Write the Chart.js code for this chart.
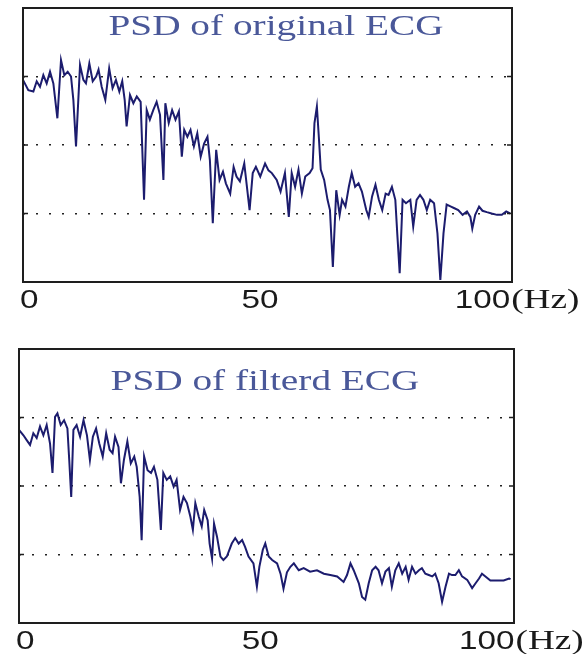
<!DOCTYPE html>
<html>
<head>
<meta charset="utf-8">
<title>PSD of ECG</title>
<script src="https://cdn.jsdelivr.net/npm/chart.js@4.4.0/dist/chart.umd.min.js"></script>
<style>
  body { margin: 0; background: #fff; }
  .panel { position: absolute; left: 0; width: 583px; }
</style>
</head>
<body>
<div class="panel" style="top:0;height:320px"><canvas id="origChart"></canvas></div>
<div class="panel" style="top:320px;height:334px"><canvas id="filtChart"></canvas></div>
<script>
// values (1 unit = one dotted grid step)
var origHz = [0, 1.1, 2.14, 2.83, 3.51, 4.2, 4.89, 5.58, 6.27, 7.1, 7.85, 8.54, 9.23, 9.92, 10.4, 10.95,
  11.78, 12.47, 13.0, 13.7, 14.4, 15.1, 15.6, 16.25, 17.0, 17.8, 18.5, 19.2, 19.9, 20.5, 21.0, 21.4,
  22.1, 22.8, 23.5, 24.3, 25.0, 25.55, 26.2, 26.9, 27.6, 28.3, 29.0, 29.4, 30.1, 30.8, 31.5, 32.2,
  32.8, 33.3, 33.95, 34.6, 35.3, 36.0, 36.7, 37.4, 38.1, 38.6, 39.2, 39.9, 40.6, 41.3, 41.9, 42.8,
  43.5, 44.1, 44.8, 45.7, 46.8, 47.45, 48.1, 49.0, 50.0, 50.7, 51.4, 52.4, 53.2, 54.1, 54.9, 55.5,
  56.2, 56.9, 57.6, 58.3, 59.2, 59.8, 60.2, 60.7, 61.1, 61.5, 62.2, 62.9, 63.4, 64.0, 64.7, 65.4,
  65.9, 66.6, 67.3, 67.9, 68.6, 69.3, 70.0, 70.9, 71.4, 72.1, 72.8, 73.5, 74.2, 74.9, 75.5, 76.2,
  76.9, 77.3, 77.8, 78.4, 79.1, 80.0, 80.6, 81.3, 82.0, 82.7, 83.4, 84.1, 84.9, 85.6, 86.2, 86.85,
  87.5, 88.4, 89.0, 89.9, 90.8, 91.7, 92.4, 92.8, 93.4, 94.2, 94.9, 95.8, 96.8, 97.9, 98.9, 99.8, 100.6];
var origPsd = [2.95, 2.80, 2.78, 2.93, 2.85, 3.02, 2.90, 3.07, 2.90, 2.39, 3.24, 3.02, 3.07, 3.0, 2.66, 1.98,
  3.17, 2.95, 2.90, 3.19, 2.93, 3.0, 3.10, 2.85, 2.66, 3.12, 2.83, 2.95, 2.78, 2.93, 2.66, 2.27,
  2.73, 2.61, 2.71, 2.63, 1.20, 2.51, 2.37, 2.51, 2.63, 2.44, 1.49, 2.61, 2.32, 2.51, 2.37, 2.49,
  1.83, 2.22, 2.12, 2.22, 1.98, 2.17, 1.83, 2.02, 2.12, 1.78, 0.86, 1.93, 1.49, 1.61, 1.44, 1.29,
  1.68, 1.54, 1.47, 1.73, 1.05, 1.59, 1.68, 1.54, 1.73, 1.63, 1.59, 1.49, 1.32, 1.59, 0.95, 1.59,
  1.39, 1.64, 1.29, 1.54, 1.59, 1.66, 2.32, 2.56, 2.12, 1.64, 1.49, 1.20, 1.05, 0.22, 1.34, 0.98,
  1.20, 1.10, 1.39, 1.59, 1.39, 1.44, 1.32, 1.05, 0.95, 1.25, 1.42, 1.20, 1.05, 1.29, 1.27, 1.39,
  1.20, 0.71, 0.13, 1.20, 1.15, 1.20, 0.81, 1.20, 1.27, 1.20, 1.05, 1.20, 1.15, 0.71, 0.03, 0.71,
  1.13, 1.10, 1.08, 1.05, 0.98, 1.03, 0.95, 0.78, 0.98, 1.10, 1.04, 1.02, 1.0, 0.98, 0.98, 1.03, 1.0];

var filtHz = [0, 0.9, 1.56, 2.24, 2.91, 3.59, 4.27, 4.95, 5.62, 6.3, 6.8, 7.32, 7.8, 8.47, 9.15, 9.83,
  10.2, 10.6, 11.05, 11.7, 12.4, 13.1, 13.8, 14.4, 15.0, 15.65, 16.3, 17.0, 17.7, 18.4, 19.0, 19.5,
  20.2, 20.7, 21.3, 22.0, 22.7, 23.4, 23.9, 24.5, 24.9, 25.4, 26.1, 26.8, 27.4, 28.1, 28.8, 29.3,
  30.0, 30.7, 31.4, 32.0, 32.7, 33.4, 34.1, 34.8, 35.3, 35.8, 36.5, 37.1, 37.6, 38.3, 38.7, 39.2,
  39.6, 40.2, 40.9, 41.5, 42.2, 43.2, 43.9, 44.6, 45.3, 45.9, 46.6, 47.6, 48.3, 48.8, 49.5, 50.0,
  50.7, 51.4, 52.4, 53.1, 53.7, 54.4, 55.1, 55.8, 56.8, 57.8, 59.1, 60.5, 61.9, 63.2, 64.6, 65.9,
  66.6, 67.3, 67.95, 69.0, 69.65, 70.3, 71.0, 71.7, 72.4, 73.0, 73.7, 74.4, 75.1, 75.7, 76.4, 77.1,
  77.8, 78.5, 79.1, 79.8, 80.5, 81.2, 81.8, 82.5, 83.2, 83.9, 84.5, 85.2, 85.9, 86.6, 87.3, 87.9,
  88.6, 89.3, 89.95, 91.0, 92.0, 92.7, 93.4, 94.0, 94.7, 95.7, 97.1, 98.4, 99.5, 99.8];
var filtPsd = [2.82, 2.74, 2.67, 2.60, 2.77, 2.70, 2.87, 2.74, 2.89, 2.62, 2.19, 3.01, 3.06, 2.89, 2.96, 2.84,
  2.38, 1.84, 2.82, 2.89, 2.72, 2.96, 2.74, 2.38, 2.72, 2.84, 2.62, 2.43, 2.77, 2.53, 2.48, 2.72,
  2.57, 2.04, 2.38, 2.65, 2.33, 2.43, 2.28, 1.84, 1.21, 2.43, 2.23, 2.19, 2.28, 2.09, 1.36, 2.19,
  2.09, 2.14, 1.99, 2.09, 1.65, 1.84, 1.75, 1.55, 1.36, 1.75, 1.55, 1.41, 1.65, 1.50, 1.16, 0.94,
  1.45, 1.26, 0.97, 0.92, 0.97, 1.16, 1.24, 1.16, 1.21, 1.11, 0.97, 0.87, 0.53, 0.82, 1.07, 1.16,
  0.97, 0.92, 0.87, 0.72, 0.50, 0.74, 0.82, 0.87, 0.77, 0.80, 0.75, 0.77, 0.72, 0.70, 0.68, 0.60,
  0.70, 0.87, 0.77, 0.58, 0.38, 0.34, 0.58, 0.77, 0.82, 0.77, 0.58, 0.75, 0.80, 0.53, 0.77, 0.87,
  0.72, 0.82, 0.63, 0.82, 0.72, 0.77, 0.80, 0.72, 0.70, 0.68, 0.72, 0.58, 0.31, 0.53, 0.72, 0.70,
  0.70, 0.77, 0.68, 0.63, 0.51, 0.58, 0.65, 0.72, 0.68, 0.62, 0.62, 0.62, 0.65, 0.64];

var xTickValues = [0, 50, 100];
var xTickLabels = ['0', '50', '100'];
var xUnit = '(Hz)';
var yGridValues = [1, 2, 3];

function drawStretched(ctx, text, x, y, font, color, sx, align) {
  ctx.save();
  ctx.translate(x, y);
  ctx.scale(sx, 1);
  ctx.font = font;
  ctx.fillStyle = color;
  ctx.textAlign = align;
  ctx.textBaseline = 'alphabetic';
  ctx.fillText(text, 0, 0);
  var w = ctx.measureText(text).width * sx;
  ctx.restore();
  return w;
}

var panelDecor = {
  id: 'panelDecor',
  afterDraw: function(chart) {
    var o = chart.options.plugins.panelDecor;
    var ctx = chart.ctx, a = chart.chartArea;
    var xs = chart.scales.x, ys = chart.scales.y;
    ctx.save();
    ctx.strokeStyle = '#1e1e1e';
    ctx.lineWidth = 2;
    ctx.strokeRect(a.left, a.top, a.right - a.left, a.bottom - a.top);
    ctx.lineWidth = 1.5;
    yGridValues.forEach(function(v) {
      var y = ys.getPixelForValue(v);
      ctx.beginPath();
      ctx.moveTo(a.left, y); ctx.lineTo(a.left + 5, y);
      ctx.moveTo(a.right, y); ctx.lineTo(a.right - 5, y);
      ctx.stroke();
    });
    ctx.restore();

    drawStretched(ctx, o.title, o.titleX, o.titleY, '30px "Liberation Serif", "Times New Roman", serif', '#4a5899', 1.31, 'center');

    // tick labels under the box
    var base = a.bottom + 26;
    var aligns = ['left', 'center', 'right'];
    var shift = [-3, -5, 3];
    var numFont = '25px "Liberation Sans", Arial, sans-serif';
    for (var i = 0; i < xTickValues.length; i++) {
      var px = xs.getPixelForValue(xTickValues[i]) + shift[i];
      drawStretched(ctx, xTickLabels[i], px, base, numFont, '#1a1a1a', 1.33, aligns[i]);
      if (i === xTickValues.length - 1) {
        drawStretched(ctx, xUnit, px + 1, base, '28px "Liberation Serif", "Times New Roman", serif', '#1a1a1a', 1.33, 'left');
      }
    }
  }
};

function makePanel(id, hz, psd, opt) {
  var pts = hz.map(function(h, i) { return { x: h, y: psd[i] }; });
  return new Chart(document.getElementById(id), {
    type: 'line',
    data: {
      datasets: [{
        data: pts,
        borderColor: '#1c1c6e',
        borderWidth: 2,
        pointRadius: 0,
        tension: 0,
        fill: false
      }]
    },
    options: {
      responsive: true,
      maintainAspectRatio: false,
      animation: false,
      layout: { padding: opt.padding },
      plugins: {
        legend: { display: false },
        tooltip: { enabled: false },
        panelDecor: { title: opt.title, titleX: opt.titleX, titleY: opt.titleY }
      },
      scales: {
        x: {
          type: 'linear', min: 0, max: opt.xMax,
          ticks: { display: false, stepSize: 50 },
          grid: {
            drawTicks: false, lineWidth: 1.6,
            color: function(c) { return c.tick && c.tick.value === 50 ? '#222' : 'rgba(0,0,0,0)'; }
          },
          border: { display: false, dash: [2, 8] }
        },
        y: {
          min: 0, max: 4,
          ticks: { display: false, stepSize: 1 },
          grid: {
            drawTicks: false, lineWidth: 1.6,
            color: function(c) { return c.tick && yGridValues.indexOf(c.tick.value) >= 0 ? '#222' : 'rgba(0,0,0,0)'; }
          },
          border: { display: false, dash: [2, 11] }
        }
      }
    },
    plugins: [panelDecor]
  });
}

makePanel('origChart', origHz, origPsd, {
  title: 'PSD of original ECG', titleX: 276, titleY: 35, xMax: 101,
  padding: { left: 23, top: 8, right: 71, bottom: 38 }
});
makePanel('filtChart', filtHz, filtPsd, {
  title: 'PSD of filterd ECG', titleX: 265, titleY: 70, xMax: 100.5,
  padding: { left: 19, top: 29, right: 69, bottom: 31 }
});
</script>
</body>
</html>
